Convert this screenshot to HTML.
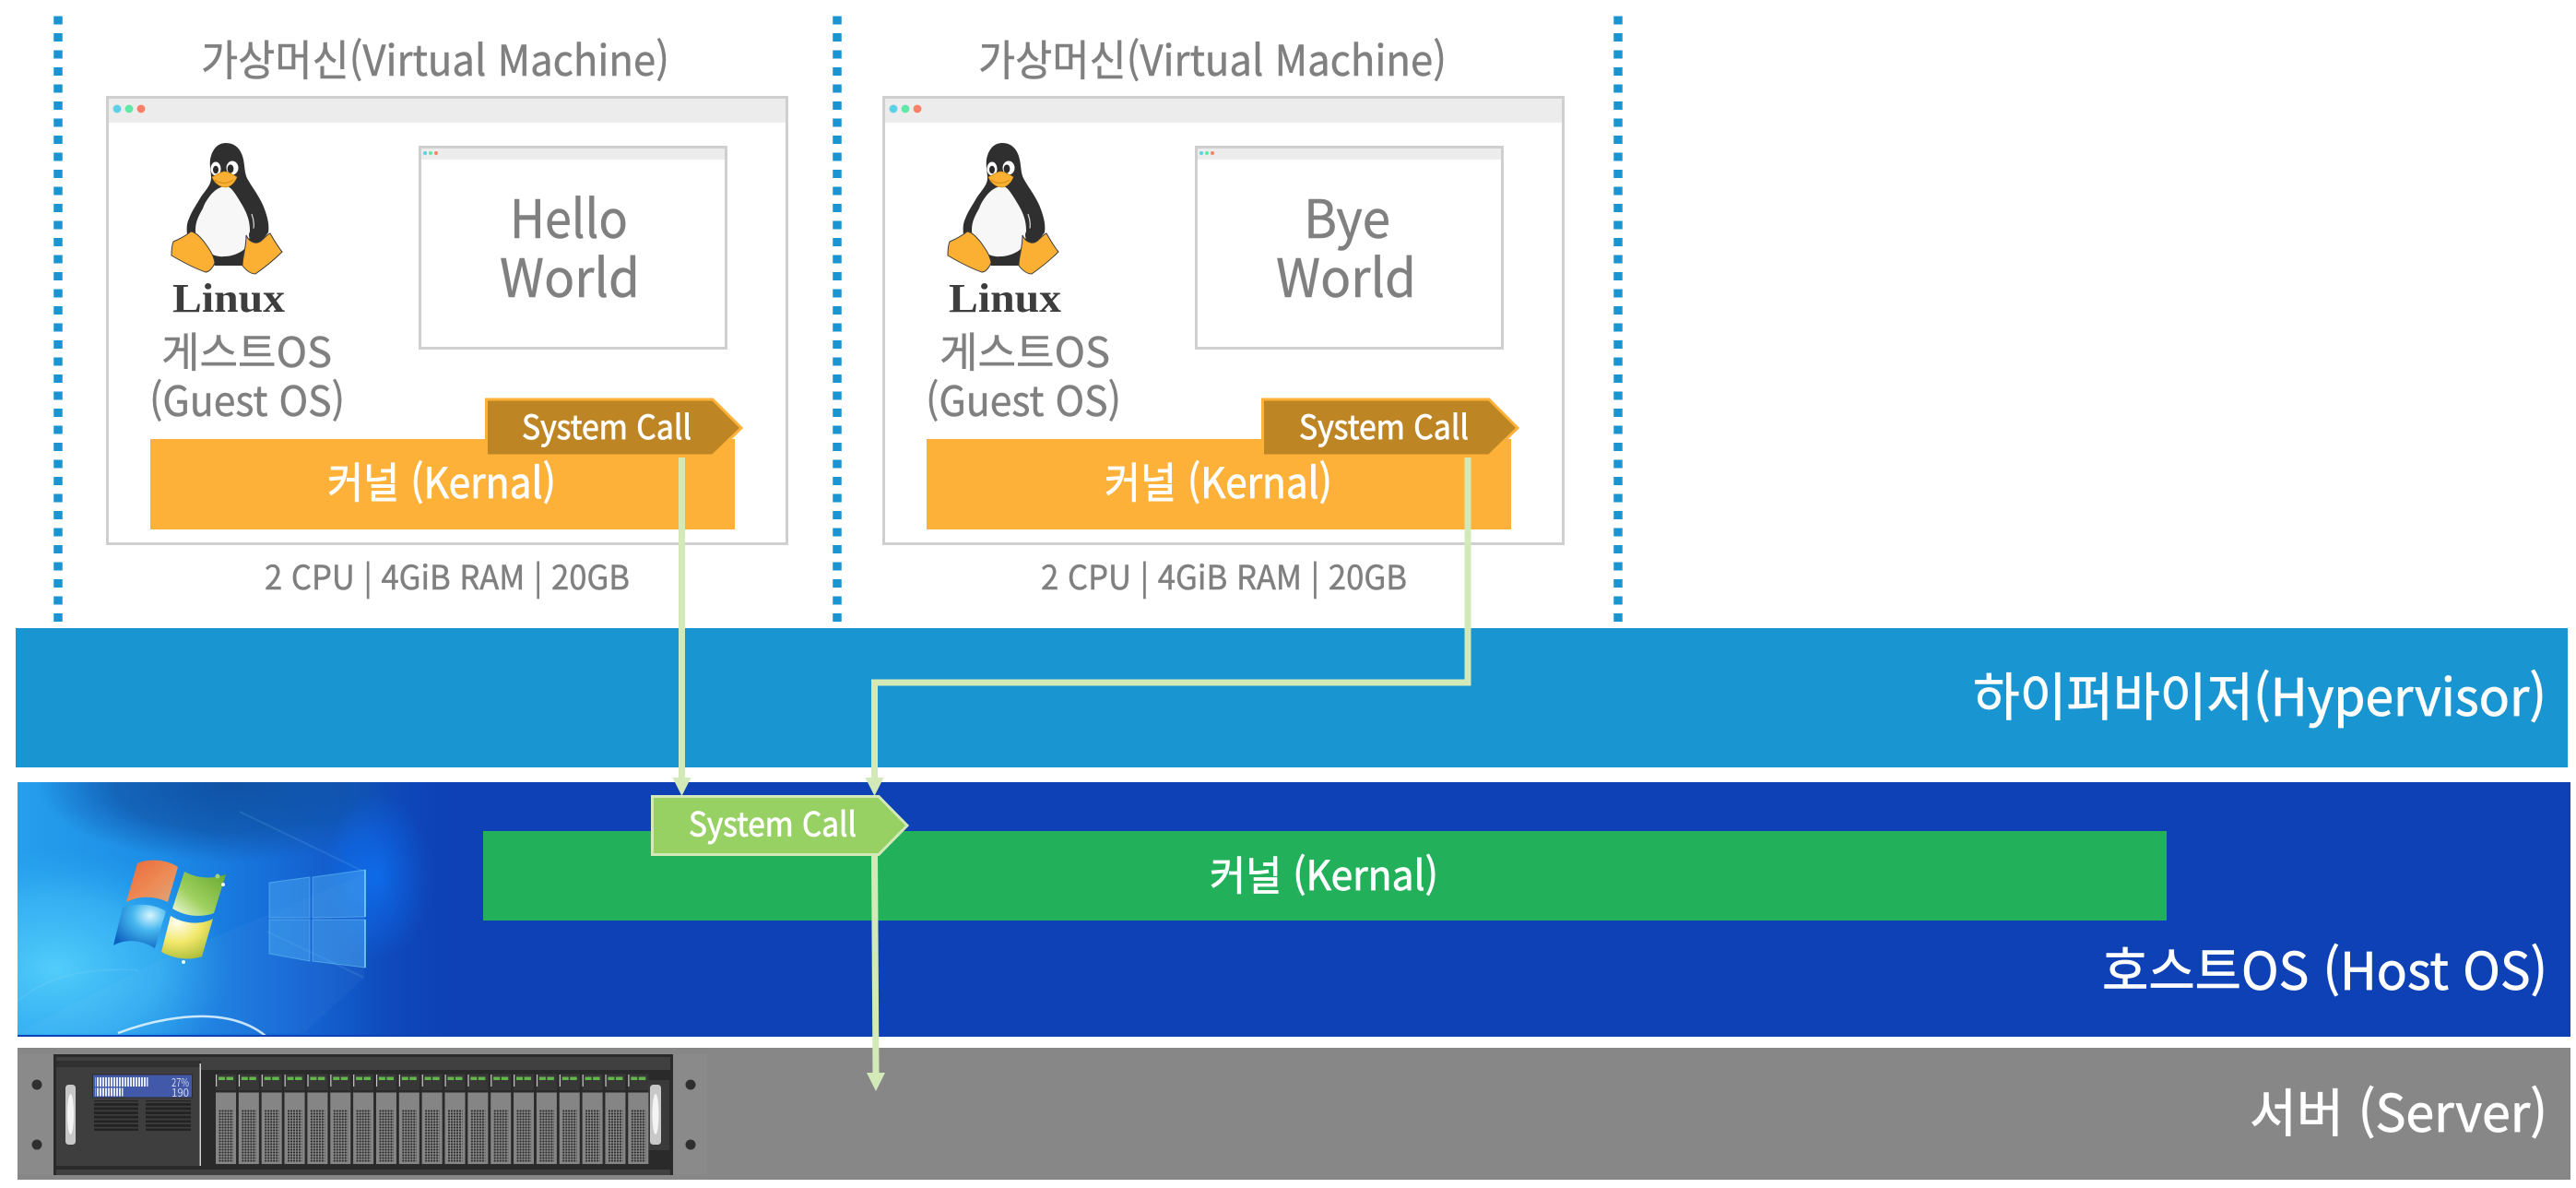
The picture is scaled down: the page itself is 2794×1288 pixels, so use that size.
<!DOCTYPE html>
<html lang="ko">
<head>
<meta charset="utf-8">
<title>Hypervisor System Call Diagram</title>
<style>
html,body{margin:0;padding:0;background:#fff;}
svg{display:block;}
text{font-family:"Noto Sans CJK KR","Liberation Sans",sans-serif;}
.g{fill:#808080;stroke:#808080;stroke-width:.5px;}
.w{fill:#fff;stroke:#fff;stroke-width:.8px;}
.linux{font-family:"Liberation Serif",serif;font-weight:700;fill:#3d3d3d;}
</style>
</head>
<body>
<svg xmlns="http://www.w3.org/2000/svg" width="2794" height="1288" viewBox="0 0 2794 1288">
<defs>
  <linearGradient id="wpBase" x1="0" y1="0" x2="1" y2="0">
    <stop offset="0" stop-color="#259fec"/>
    <stop offset="0.35" stop-color="#1c8be6"/>
    <stop offset="0.62" stop-color="#1569d6"/>
    <stop offset="0.85" stop-color="#0f4dbf"/>
    <stop offset="1" stop-color="#0d41b5"/>
  </linearGradient>
  <radialGradient id="wpDark" cx="0.5" cy="0.5" r="0.5">
    <stop offset="0" stop-color="#0f52a6" stop-opacity="1"/>
    <stop offset="0.6" stop-color="#0f52a6" stop-opacity=".7"/>
    <stop offset="1" stop-color="#0f52a6" stop-opacity="0"/>
  </radialGradient>
  <radialGradient id="wpLight" cx="0.5" cy="0.5" r="0.5">
    <stop offset="0" stop-color="#52cdfa" stop-opacity="1"/>
    <stop offset="0.6" stop-color="#3cb8f5" stop-opacity=".7"/>
    <stop offset="1" stop-color="#2aa5ee" stop-opacity="0"/>
  </radialGradient>
  <radialGradient id="wpGlow" cx="0.5" cy="0.5" r="0.5">
    <stop offset="0" stop-color="#0f72f2" stop-opacity="1"/>
    <stop offset="1" stop-color="#0f72f2" stop-opacity="0"/>
  </radialGradient>
  <linearGradient id="wpFade" x1="0" y1="0" x2="1" y2="0">
    <stop offset="0" stop-color="#0d41b5" stop-opacity="0"/>
    <stop offset="1" stop-color="#0d41b5" stop-opacity="1"/>
  </linearGradient>
  <linearGradient id="flagR" x1="0" y1="0" x2="1" y2="1">
    <stop offset="0" stop-color="#e8693a"/>
    <stop offset="0.55" stop-color="#ee8a55"/>
    <stop offset="1" stop-color="#d9a67e"/>
  </linearGradient>
  <linearGradient id="flagG" x1="1" y1="0" x2="0" y2="1">
    <stop offset="0" stop-color="#66a82f"/>
    <stop offset="0.6" stop-color="#9fd05f"/>
    <stop offset="1" stop-color="#f6fbe2"/>
  </linearGradient>
  <radialGradient id="flagB" cx="0.7" cy="0.25" r="0.85">
    <stop offset="0" stop-color="#d6f5ff"/>
    <stop offset="0.4" stop-color="#46b7ee"/>
    <stop offset="1" stop-color="#0b60c0"/>
  </radialGradient>
  <radialGradient id="flagY" cx="0.3" cy="0.15" r="0.95">
    <stop offset="0" stop-color="#fffff0"/>
    <stop offset="0.5" stop-color="#f2e76a"/>
    <stop offset="1" stop-color="#a7ba35"/>
  </radialGradient>
  <pattern id="mesh" width="3" height="3" patternUnits="userSpaceOnUse">
    <rect width="3" height="3" fill="#8e8e8e"/>
    <circle cx="1.5" cy="1.5" r="1.15" fill="#2c2c2c"/>
  </pattern>
  <pattern id="vent" width="10" height="4.6" patternUnits="userSpaceOnUse">
    <rect width="10" height="4.6" fill="#3c3c3c"/>
    <rect width="10" height="2.8" fill="#232323"/>
  </pattern>
  <pattern id="lcdbar" width="3" height="10" patternUnits="userSpaceOnUse">
    <rect width="2" height="10" fill="#e4e7f4"/>
  </pattern>

  <g id="tux">
    <path d="M245 155C256 155 262 163 264 173 266 183 265 188 269 195 274 204 283 215 287 227 291 238 292 245 291 252L263 288H233L203 254C202 247 203 241 205 237 208 229 213 222 217 215 222 207 229 201 229 193 229 186 227 180 228 173 230 162 236 155 245 155Z" fill="#2f2f2f"/>
    <path d="M245 202C238 202 232 207 228 212 225 216 222 220 220 226 216 233 212 240 212 249 212 258 217 266 223 271 229 276 236 279 243 278 252 278 262 274 267 268 271 262 272 250 270 240 268 230 262 221 257 213 253 207 250 202 245 202Z" fill="#f7f7f7"/>
    <path d="M273 232C276 240 276 247 274 254" fill="none" stroke="#d9d9d9" stroke-width="1.200"/>
    <ellipse cx="234" cy="183" rx="5.500" ry="7.500" fill="#fff"/>
    <ellipse cx="252" cy="182" rx="6.500" ry="7.500" fill="#fff"/>
    <ellipse cx="234" cy="184" rx="3" ry="4.200" fill="#2a2a2a"/>
    <ellipse cx="250" cy="183" rx="3.400" ry="4.600" fill="#2a2a2a"/>
    <path d="M243 186C238 187 234 190 230 192 233 199 239 203 245 203 251 202 255 197 257 192 254 190 248 186 243 186Z" fill="#fbb034" stroke="#c98914" stroke-width=".7"/>
    <path d="M233 195C238 199 246 200 253 195" fill="none" stroke="#c98914" stroke-width="1"/>
    <circle cx="278" cy="255" r="8" fill="#2f2f2f"/>
    <path d="M207 251C201 256 195 259 188 262 186 267 186 272 186 277 198 284 211 291 223 295 227 295 231 290 233 285 232 277 227 270 222 263 218 258 213 252 207 251Z" fill="#fbb034" stroke="#3a3a3a" stroke-width="1"/>
    <path d="M267 255C267 262 266 268 265 273 264 278 263 283 263 288 267 293 272 297 277 297 287 290 297 282 306 273 301 267 297 260 293 253 290 254 286 259 282 262 277 265 270 262 267 255Z" fill="#fbb034" stroke="#3a3a3a" stroke-width="1"/>
  </g>

  <g id="vm">
    <rect x="116.500" y="105.500" width="737" height="484" fill="#fff" stroke="#cfcfcf" stroke-width="3"/>
    <rect x="118" y="107" width="734" height="26" fill="#ececec"/>
    <circle cx="127" cy="118" r="4.400" fill="#5dcfe6"/>
    <circle cx="140" cy="118" r="4.400" fill="#5eeaa6"/>
    <circle cx="153" cy="118" r="4.400" fill="#fb8068"/>
    <rect x="455.500" y="159.500" width="332" height="218" fill="#fff" stroke="#cfcfcf" stroke-width="3"/>
    <rect x="457" y="161" width="329" height="12" fill="#ececec"/>
    <circle cx="461" cy="166" r="2" fill="#5dcfe6"/>
    <circle cx="467" cy="166" r="2" fill="#5eeaa6"/>
    <circle cx="473" cy="166" r="2" fill="#fb8068"/>
    <rect x="163" y="476" width="634" height="98" fill="#fdb138"/>
    <path d="M527.500 433H773L804 464 773 494H527.500Z" fill="#be8525" stroke="#fdb138" stroke-width="3"/>
    <use href="#tux"/>
  </g>
</defs>

<rect width="2794" height="1288" fill="#fff"/>

<!-- dotted dividers -->
<g stroke="#1a95d2" stroke-width="9.500" fill="none" stroke-dasharray="9 9.500">
  <line x1="63" y1="17.500" x2="63" y2="674"/>
  <line x1="908" y1="17.500" x2="908" y2="674"/>
  <line x1="1755" y1="17.500" x2="1755" y2="674"/>
</g>

<!-- VM frames -->
<use href="#vm"/>
<use href="#vm" x="842"/>

<!-- VM1 labels -->
<text class="g" x="218" y="82" font-size="46" textLength="508" lengthAdjust="spacingAndGlyphs">가상머신(Virtual Machine)</text>
<text class="g" x="553" y="258" font-size="57" textLength="128" lengthAdjust="spacingAndGlyphs">Hello</text>
<text class="g" x="542" y="322" font-size="57" textLength="152" lengthAdjust="spacingAndGlyphs">World</text>
<text class="linux" x="187" y="338" font-size="44" textLength="122" lengthAdjust="spacingAndGlyphs">Linux</text>
<text class="g" x="175" y="398" font-size="45" textLength="185" lengthAdjust="spacingAndGlyphs">게스트OS</text>
<text class="g" x="162" y="451" font-size="45" textLength="212" lengthAdjust="spacingAndGlyphs">(Guest OS)</text>
<text class="w" x="355" y="540" font-size="46" textLength="248" lengthAdjust="spacingAndGlyphs">커널 (Kernal)</text>
<text class="w" x="566" y="476" font-size="36" textLength="184" lengthAdjust="spacingAndGlyphs">System Call</text>
<text class="g" x="287" y="639" font-size="36" textLength="396" lengthAdjust="spacingAndGlyphs">2 CPU | 4GiB RAM | 20GB</text>

<!-- VM2 labels -->
<text class="g" x="1061" y="82" font-size="46" textLength="508" lengthAdjust="spacingAndGlyphs">가상머신(Virtual Machine)</text>
<text class="g" x="1414" y="258" font-size="57" textLength="94" lengthAdjust="spacingAndGlyphs">Bye</text>
<text class="g" x="1384" y="322" font-size="57" textLength="152" lengthAdjust="spacingAndGlyphs">World</text>
<text class="linux" x="1029" y="338" font-size="44" textLength="122" lengthAdjust="spacingAndGlyphs">Linux</text>
<text class="g" x="1019" y="398" font-size="45" textLength="185" lengthAdjust="spacingAndGlyphs">게스트OS</text>
<text class="g" x="1004" y="451" font-size="45" textLength="212" lengthAdjust="spacingAndGlyphs">(Guest OS)</text>
<text class="w" x="1198" y="540" font-size="46" textLength="247" lengthAdjust="spacingAndGlyphs">커널 (Kernal)</text>
<text class="w" x="1409" y="476" font-size="36" textLength="184" lengthAdjust="spacingAndGlyphs">System Call</text>
<text class="g" x="1129" y="639" font-size="36" textLength="397" lengthAdjust="spacingAndGlyphs">2 CPU | 4GiB RAM | 20GB</text>

<!-- Bands -->
<rect x="17" y="681" width="2768" height="151" fill="#1995d1"/>
<rect x="19" y="848" width="2769" height="276" fill="#0d41b5"/>
<rect x="19" y="1136" width="2769" height="143" fill="#878787"/>

<!-- wallpaper -->
<svg x="19" y="848" width="470" height="274" viewBox="19 848 470 274">
  <rect x="19" y="848" width="470" height="276" fill="url(#wpBase)"/>
  <ellipse cx="250" cy="850" rx="210" ry="85" fill="url(#wpDark)"/>
  <ellipse cx="60" cy="1050" rx="190" ry="130" fill="url(#wpLight)"/>
  <ellipse cx="410" cy="950" rx="60" ry="90" fill="url(#wpGlow)"/>
  <path d="M395 945 260 880 M395 1060 290 1010" stroke="#7fc6f5" stroke-opacity=".16" stroke-width="2" fill="none"/>
  <path d="M395 948 175 1040 19 1120H330L395 1060Z" fill="#ffffff" opacity=".03"/>
  <rect x="380" y="848" width="110" height="276" fill="url(#wpFade)" opacity=".55"/>
  <path d="M128 1120C165 1106 200 1101 225 1102 250 1103 272 1110 288 1123" stroke="#e8f7ff" stroke-width="2.500" fill="none" opacity=".85"/>
  <path d="M19 1085C50 1060 90 1048 150 1052" stroke="#a7e4fb" stroke-opacity=".12" stroke-width="2" fill="none"/>
  <!-- win10 logo -->
  <g fill="#4fb0f5" fill-opacity=".45" stroke="#6cc4f7" stroke-opacity=".55" stroke-width="1">
    <path d="M292 957 336 951V995H292Z"/>
    <path d="M339 951 396 943V994L339 995Z"/>
    <path d="M292 997H336V1042L292 1034Z"/>
    <path d="M339 997H396V1049L339 1042Z"/>
  </g>
  <path d="M396 943V994M396 997V1049" stroke="#7fdcf8" stroke-width="1.500" fill="none"/>
  <!-- win7 flag -->
  <path d="M149 936C160 931 180 931 193 940L182 978C165 970 148 972 137 978Z" fill="url(#flagR)"/>
  <path d="M200 945C215 953 231 953 245 948L232 990C215 996 198 992 187 985Z" fill="url(#flagG)"/>
  <path d="M133 984C150 978 170 981 180 988L168 1028C152 1018 135 1018 123 1025Z" fill="url(#flagB)"/>
  <path d="M185 993C200 1002 218 1003 231 996L219 1037C205 1042 187 1039 175 1032Z" fill="url(#flagY)"/>
  <circle cx="236" cy="950" r="2.500" fill="#9ed27a"/>
  <circle cx="242" cy="959" r="2" fill="#f3fbe6"/>
  <circle cx="199" cy="1043" r="2" fill="#f3fbe6"/>
</svg>
<rect x="19" y="1122" width="470" height="2" fill="#0d41b5"/>
<rect x="524" y="901" width="1826" height="97" fill="#22b05a"/>
<text class="w" x="1312" y="965" font-size="44" textLength="248" lengthAdjust="spacingAndGlyphs">커널 (Kernal)</text>

<!-- server -->
<g>
  <rect x="19" y="1143" width="748" height="130" fill="#8a8a8a"/>
  <circle cx="40" cy="1176" r="5.500" fill="#2f2f2f"/>
  <circle cx="40" cy="1241" r="5.500" fill="#2f2f2f"/>
  <circle cx="749" cy="1176" r="5.500" fill="#2f2f2f"/>
  <circle cx="749" cy="1241" r="5.500" fill="#2f2f2f"/>
  <rect x="58" y="1143" width="672" height="131" fill="#2a2a2a"/>
  <rect x="61" y="1146" width="666" height="14" fill="#404040"/>
  <rect x="61" y="1150" width="157" height="7" fill="#303030"/>
  <rect x="61" y="1157" width="156" height="107" fill="#3e3e3e"/>
  <rect x="216.500" y="1153" width="1.500" height="111" fill="#cfcfcf"/>
  <rect x="61" y="1268" width="666" height="6" fill="#404040"/>
  <rect x="71" y="1176" width="11" height="65" rx="3.500" fill="#c8c8c8"/>
  <ellipse cx="76.500" cy="1208" rx="3.500" ry="22" fill="#f4f4f4"/>
  <rect x="703" y="1171" width="23" height="76" fill="#3a3a3a"/>
  <rect x="705" y="1176" width="12" height="65" rx="3.500" fill="#c8c8c8"/>
  <ellipse cx="711" cy="1208" rx="3.500" ry="22" fill="#f4f4f4"/>
  <rect x="100.500" y="1165" width="108" height="25" fill="#4159a8" stroke="#2b2b2b" stroke-width="1"/>
  <rect x="103.500" y="1168" width="57" height="10" fill="url(#lcdbar)"/>
  <rect x="103.500" y="1179.500" width="30" height="9" fill="url(#lcdbar)"/>
  <text x="186" y="1178" font-size="12" fill="#d4d8ee" textLength="19" lengthAdjust="spacingAndGlyphs">27%</text>
  <text x="186" y="1189" font-size="12" fill="#d4d8ee" textLength="19" lengthAdjust="spacingAndGlyphs">190</text>
  <rect x="102" y="1193" width="48" height="33" fill="url(#vent)"/>
  <rect x="158" y="1193" width="49" height="33" fill="url(#vent)"/>
  <g id="drives">
    <g id="d0"><rect x="234" y="1164.500" width="22" height="17.500" fill="#373737"/><rect x="234" y="1165" width="1.200" height="13" fill="#c9c9c9"/><rect x="237" y="1167.500" width="7" height="3.500" fill="#63b64c"/><rect x="245.500" y="1167.500" width="7.500" height="3.500" fill="#63b64c"/><rect x="234" y="1184.500" width="22" height="77.500" fill="#858585"/><rect x="237" y="1203.500" width="16" height="56.500" fill="url(#mesh)"/></g>
    <use href="#d0" x="24.850"/><use href="#d0" x="49.700"/><use href="#d0" x="74.550"/><use href="#d0" x="99.400"/><use href="#d0" x="124.250"/><use href="#d0" x="149.100"/><use href="#d0" x="173.950"/><use href="#d0" x="198.800"/><use href="#d0" x="223.650"/><use href="#d0" x="248.500"/><use href="#d0" x="273.350"/><use href="#d0" x="298.200"/><use href="#d0" x="323.050"/><use href="#d0" x="347.900"/><use href="#d0" x="372.750"/><use href="#d0" x="397.600"/><use href="#d0" x="422.450"/><use href="#d0" x="447.300"/>
  </g>
</g>

<!-- right labels -->
<text class="w" x="2140" y="776" font-size="56" textLength="622" lengthAdjust="spacingAndGlyphs">하이퍼바이저(Hypervisor)</text>
<text class="w" x="2280" y="1073" font-size="56" textLength="483" lengthAdjust="spacingAndGlyphs">호스트OS (Host OS)</text>
<text class="w" x="2440" y="1227" font-size="56" textLength="323" lengthAdjust="spacingAndGlyphs">서버 (Server)</text>

<!-- connectors -->
<g fill="none" stroke="#d3e9b8" stroke-width="7">
  <path d="M739.500 496V846"/>
  <path d="M1592 496V740H948.500V846"/>
  <path d="M948.500 925 950 1166"/>
</g>
<g fill="#d3e9b8">
  <path d="M729.500 843H749.500L739.500 863Z"/>
  <path d="M938.500 843H958.500L948.500 863Z"/>
  <path d="M940 1163H960L950 1183Z"/>
</g>

<!-- host system call -->
<path d="M707.500 863.500H953L984 895 953 926.500H707.500Z" fill="#97d063" stroke="#d3e9b8" stroke-width="3"/>
<text class="w" x="747" y="906.500" font-size="36" textLength="182" lengthAdjust="spacingAndGlyphs">System Call</text>
</svg>
</body>
</html>
